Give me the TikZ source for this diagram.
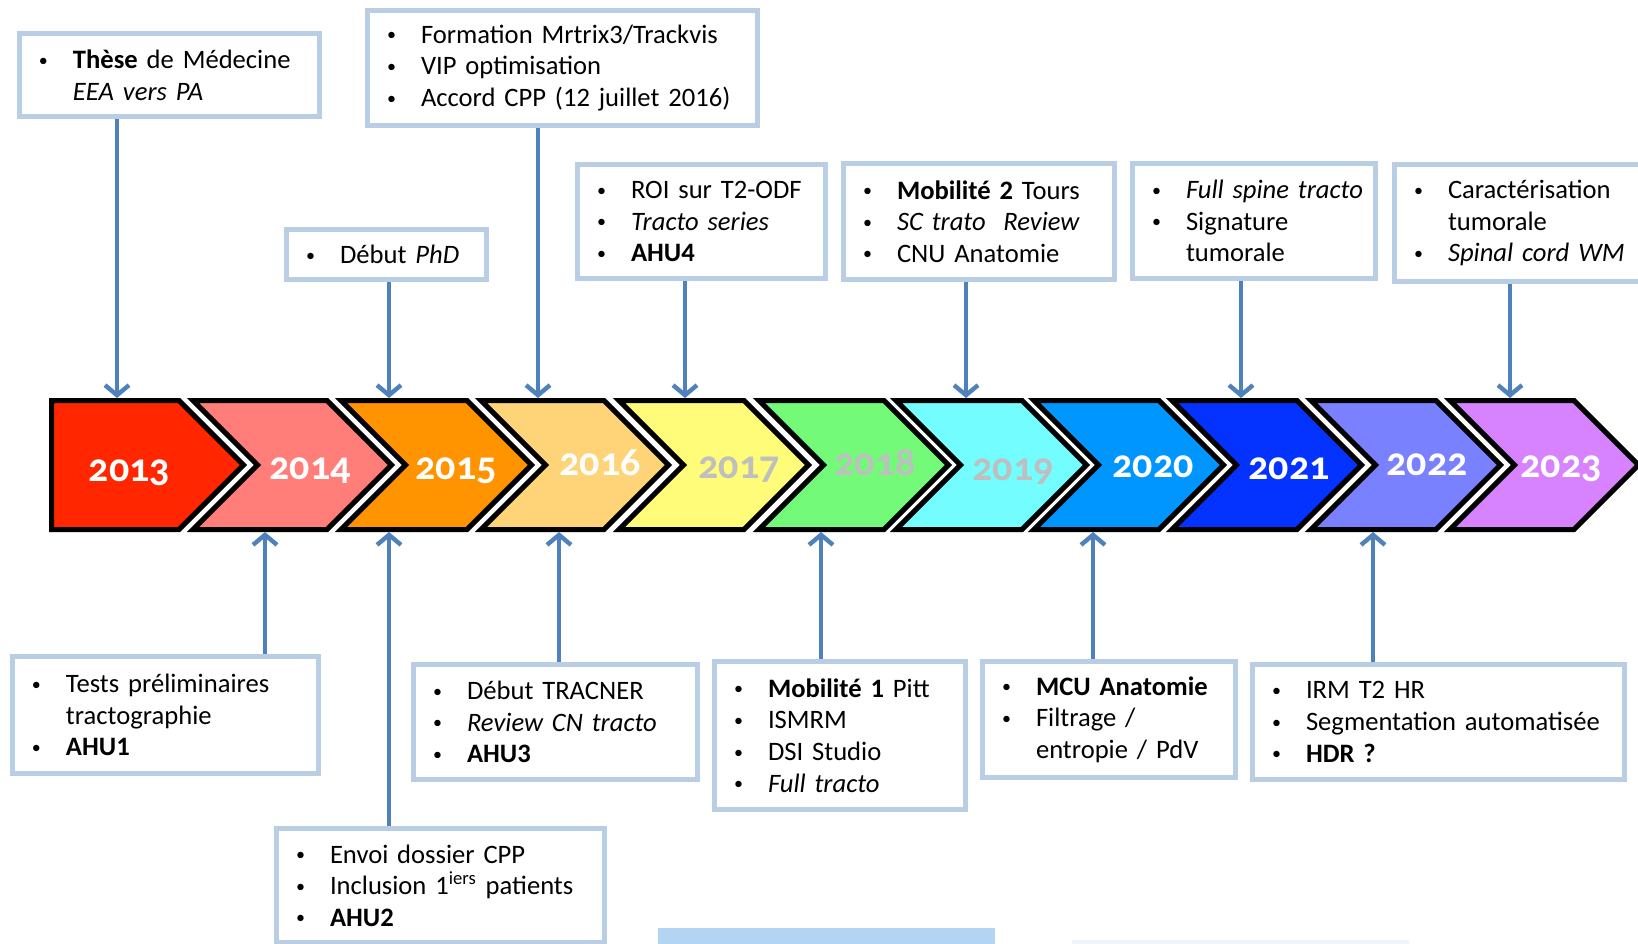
\documentclass[tikz,border=0pt]{standalone}
\usepackage{fontspec}
\setmainfont{Carlito}
\newfontfamily\yearfont[Numbers=OldStyle]{Carlito}
\usepackage{xcolor}
\usepackage{tikz}
\usetikzlibrary{arrows.meta}

\definecolor{boxblue}{HTML}{B9CDE5}
\definecolor{arrblue}{HTML}{4F81BD}
\definecolor{yrgrey}{HTML}{BFBFBF}
\definecolor{stripblue}{HTML}{B3D5F3}
\definecolor{stripfaint}{HTML}{EEF6FC}
\definecolor{c13}{HTML}{FF2600}
\definecolor{c14}{HTML}{FF7E79}
\definecolor{c15}{HTML}{FF9300}
\definecolor{c16}{HTML}{FFD479}
\definecolor{c17}{HTML}{FFFC79}
\definecolor{c18}{HTML}{73FA79}
\definecolor{c19}{HTML}{73FDFF}
\definecolor{c20}{HTML}{0096FF}
\definecolor{c21}{HTML}{0433FF}
\definecolor{c22}{HTML}{7A81FF}
\definecolor{c23}{HTML}{D783FF}

\newcommand{\itm}[1]{\mbox{\makebox[17pt][l]{\raisebox{1.2pt}{\fontsize{9}{9}\selectfont\textbullet}}#1}}
\newcommand{\cnt}[1]{\mbox{\hspace*{17pt}#1}}

\begin{document}
\begin{tikzpicture}[x=0.5pt,y=-0.5pt,
    evt/.style={draw=boxblue,line width=2.5pt,fill=white,anchor=north west,align=left,
        inner xsep=9.75pt,inner ysep=0pt,font=\fontsize{13.3}{15.8}\selectfont},
    chev/.style={draw=black,line width=2.5pt},
    year/.style={anchor=base,text=white,font=\yearfont\fontsize{20}{24}\selectfont\bfseries},
    arr/.style={arrblue,line width=2.2pt,-{Straight Barb[length=5pt,width=12pt]}}]

    \useasboundingbox (0,0) rectangle (1638,943);

    % The timeline
    \draw[chev,fill=c13] (51.5,400.5) -- ++(127.5,0) -- ++(64.5,64.5) -- ++(-64.5,64.5) -- ++(-127.5,0) -- cycle;
    \draw[chev,fill=c14] (193,400.5) -- ++(134,0) -- ++(64.5,64.5) -- ++(-64.5,64.5) -- ++(-134,0) -- ++(64.5,-64.5) -- cycle;
    \draw[chev,fill=c15] (341,400.5) -- ++(126,0) -- ++(64.5,64.5) -- ++(-64.5,64.5) -- ++(-126,0) -- ++(64.5,-64.5) -- cycle;
    \draw[chev,fill=c16] (481,400.5) -- ++(123,0) -- ++(64.5,64.5) -- ++(-64.5,64.5) -- ++(-123,0) -- ++(64.5,-64.5) -- cycle;
    \draw[chev,fill=c17] (619,400.5) -- ++(125,0) -- ++(64.5,64.5) -- ++(-64.5,64.5) -- ++(-125,0) -- ++(64.5,-64.5) -- cycle;
    \draw[chev,fill=c18] (759,400.5) -- ++(125,0) -- ++(64.5,64.5) -- ++(-64.5,64.5) -- ++(-125,0) -- ++(64.5,-64.5) -- cycle;
    \draw[chev,fill=c19] (896,400.5) -- ++(126,0) -- ++(64.5,64.5) -- ++(-64.5,64.5) -- ++(-126,0) -- ++(64.5,-64.5) -- cycle;
    \draw[chev,fill=c20] (1034,400.5) -- ++(125,0) -- ++(64.5,64.5) -- ++(-64.5,64.5) -- ++(-125,0) -- ++(64.5,-64.5) -- cycle;
    \draw[chev,fill=c21] (1172,400.5) -- ++(125,0) -- ++(64.5,64.5) -- ++(-64.5,64.5) -- ++(-125,0) -- ++(64.5,-64.5) -- cycle;
    \draw[chev,fill=c22] (1311,400.5) -- ++(125,0) -- ++(64.5,64.5) -- ++(-64.5,64.5) -- ++(-125,0) -- ++(64.5,-64.5) -- cycle;
    \draw[chev,fill=c23] (1450,400.5) -- ++(124,0) -- ++(64.5,64.5) -- ++(-64.5,64.5) -- ++(-124,0) -- ++(64.5,-64.5) -- cycle;

    \node[year] (y13) at (129.5,481) {2013};
    \node[year] (y14) at (310,479) {2014};
    \node[year] (y15) at (456,479) {2015};
    \node[year] (y16) at (600,475) {2016};
    \node[year,text=yrgrey] (y17) at (739,478) {2017};
    \node[year,text=yrgrey] (y18) at (875,475) {2018};
    \node[year,text=yrgrey] (y19) at (1013,480) {2019};
    \node[year] (y20) at (1153,477) {2020};
    \node[year] (y21) at (1289,479) {2021};
    \node[year] (y22) at (1427,475) {2022};
    \node[year] (y23) at (1561,477) {2023};

    % Events above
    \node[evt,text width=130.5pt,minimum height=41.5pt] (these) at (17,31)
        {\itm{\textbf{Thèse} de Médecine}\\\cnt{\textit{EEA vers PA}}};
    \node[evt,text width=175.5pt,minimum height=57.5pt] (cpp) at (365,8)
        {\itm{Formation Mrtrix3/Trackvis}\\\itm{VIP optimisation}\\\itm{Accord CPP (12 juillet 2016)}};
    \node[evt,text width=80.5pt,minimum height=25pt] (phd) at (284,227)
        {\itm{Début \textit{PhD}}};
    \node[evt,text width=104.5pt,minimum height=57pt] (roi) at (575,162)
        {\itm{ROI sur T2-ODF}\\\itm{\textit{Tracto series}}\\\itm{\textbf{AHU4}}};
    \node[evt,text width=116pt,minimum height=58pt] (tours) at (841,161)
        {\itm{\textbf{Mobilité 2} Tours}\\\itm{\textit{SC trato~ Review}}\\\itm{CNU Anatomie}};
    \node[evt,text width=102pt,minimum height=57.5pt] (spine) at (1130,161)
        {\itm{\textit{Full spine tracto}}\\\itm{Signature}\\\cnt{tumorale}};
    \node[evt,text width=106pt,minimum height=58.5pt] (tumor) at (1392,162)
        {\itm{Caractérisation}\\\cnt{tumorale}\\\itm{\textit{Spinal cord WM}}};

    % Events below
    \node[evt,text width=133.5pt,minimum height=58.5pt] (tests) at (10,654)
        {\itm{Tests préliminaires}\\\cnt{tractographie}\\\itm{\textbf{AHU1}}};
    \node[evt,text width=144.5pt,minimum height=57pt] (envoi) at (274,826)
        {\itm{Envoi dossier CPP}\\\itm{Inclusion 1\textsuperscript{iers} patients}\\\itm{\textbf{AHU2}}};
    \node[evt,text width=122.5pt,minimum height=57.5pt] (tracner) at (411,662)
        {\itm{Début TRACNER}\\\itm{\textit{Review CN tracto}}\\\itm{\textbf{AHU3}}};
    \node[evt,text width=106pt,minimum height=74pt] (pitt) at (712,659)
        {\itm{\textbf{Mobilité 1} Pitt}\\\itm{ISMRM}\\\itm{DSI Studio}\\\itm{\textit{Full tracto}}};
    \node[evt,text width=107pt,minimum height=58pt] (mcu) at (980,659)
        {\itm{\textbf{MCU Anatomie}}\\\itm{Filtrage /}\\\cnt{entropie / PdV}};
    \node[evt,text width=166.5pt,minimum height=57.5pt] (hdr) at (1250,662)
        {\itm{IRM T2 HR}\\\itm{Segmentation automatisée}\\\itm{\textbf{HDR ?}}};

    % Arrow ends on the timeline
    \coordinate (t13) at (117,398);
    \coordinate (t15) at (389,398);
    \coordinate (t16) at (538,398);
    \coordinate (t17) at (685,398);
    \coordinate (t19) at (966,398);
    \coordinate (t21) at (1241,398);
    \coordinate (t23) at (1510,398);
    \coordinate (b14) at (265,532);
    \coordinate (b15) at (389,532);
    \coordinate (b16) at (559,532);
    \coordinate (b18) at (821,532);
    \coordinate (b20) at (1093,532);
    \coordinate (b22) at (1373,532);

    \path[arr]
    (these.south -| t13) edge (t13)
    (phd.south -| t15) edge (t15)
    (cpp.south -| t16) edge (t16)
    (roi.south -| t17) edge (t17)
    (tours.south -| t19) edge (t19)
    (spine.south -| t21) edge (t21)
    (tumor.south -| t23) edge (t23)
    (tests.north -| b14) edge (b14)
    (envoi.north -| b15) edge (b15)
    (tracner.north -| b16) edge (b16)
    (pitt.north -| b18) edge (b18)
    (mcu.north -| b20) edge (b20)
    (hdr.north -| b22) edge (b22);

    % Strips at the bottom edge
    \fill[stripblue] (658,928) rectangle (995,945);
    \fill[stripfaint] (1072,940) rectangle (1409,945);
\end{tikzpicture}
\end{document}
